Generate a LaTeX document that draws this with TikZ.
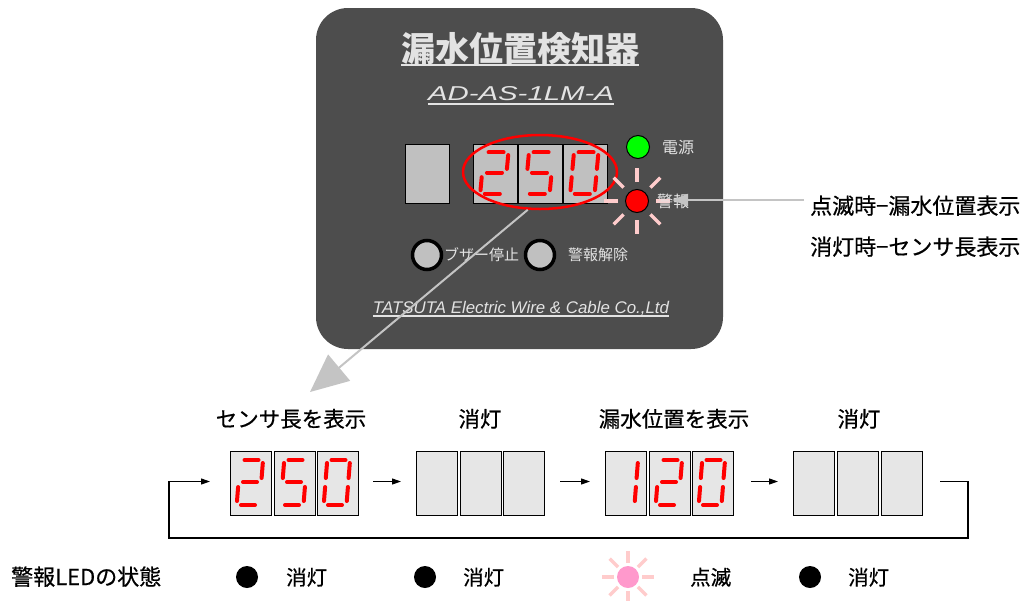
\documentclass[tikz,border=0pt]{standalone}
\usepackage{fontspec}
\usetikzlibrary{shapes.geometric,arrows.meta}
\setmainfont{Noto Sans CJK JP}
\newfontfamily\jpm[FakeBold=0.6]{Noto Sans CJK JP}
\newfontfamily\sansit{Liberation Sans}
\definecolor{panelc}{HTML}{4D4D4D}
\definecolor{ptext}{HTML}{E3E3E3}
\definecolor{dgray}{HTML}{C0C0C0}
\definecolor{lgray}{HTML}{E6E6E6}
\definecolor{rayc}{HTML}{FFCCCC}
\definecolor{pinkled}{HTML}{FF99CC}
\definecolor{arrgray}{HTML}{C4C4C4}
\newcommand\dsega{\draw[seg] (14.5,9)--(28.5,9);}
\newcommand\dsegb{\draw[seg] (32.8,12)--(31.6,27);}
\newcommand\dsegc{\draw[seg] (30.9,36)--(29.8,50);}
\newcommand\dsegd{\draw[seg] (11,54)--(25,54);}
\newcommand\dsege{\draw[seg] (8.1,36)--(7,50);}
\newcommand\dsegf{\draw[seg] (10,12)--(8.8,27);}
\newcommand\dsegg{\draw[seg] (13,31)--(27,31);}
\newcommand\sevenseg[5]{%
  \begin{scope}[shift={(#1,#2)},xscale=#3/41,yscale=#4/64]
    \foreach \s in {#5}{\csname dseg\s\endcsname}
  \end{scope}}
\begin{document}
\begin{tikzpicture}[x=1pt,y=-1pt,
  seg/.style={red,line width=4pt,line cap=round},
  panelbox/.style={fill=panelc,rounded corners=32pt,minimum width=407pt,minimum height=341pt,inner sep=0},
  pdig/.style={draw=black,fill=dgray,line width=1pt,minimum width=44pt,minimum height=59pt,anchor=north west,inner sep=0},
  ddig/.style={draw=black,fill=lgray,line width=1pt,minimum width=41pt,minimum height=64pt,anchor=north west,inner sep=0},
  ptxt/.style={text=ptext,inner sep=0,anchor=base west,font=\fontsize{15}{18}\selectfont},
  led/.style={circle,draw=black,line width=1pt,minimum size=23pt,inner sep=0},
  btn/.style={circle,draw=black,fill=dgray,line width=3.5pt,minimum size=29pt,inner sep=0},
  rayline/.style={rayc,line width=3.5pt},
  lbl/.style={inner sep=0,anchor=base,font=\jpm\fontsize{21.5}{24}\selectfont},
  lblw/.style={inner sep=0,anchor=base west,font=\jpm\fontsize{20.5}{24}\selectfont},
  flow/.style={black,line width=1.1pt,-{Triangle[length=9pt,width=6pt]}},
  dot/.style={circle,fill=black,minimum size=22pt,inner sep=0},
  uline/.style={ptext,line width=1.6pt}]
\useasboundingbox (0,0) rectangle (1027,600);
\fill[white] (0,0) rectangle (1027,600);
% panel
\node[panelbox] (panel) at (519.5,178.5) {};
\node[text=ptext,inner sep=0,anchor=base,font=\bfseries\fontsize{34}{36}\selectfont] (title) at (520,61) {漏水位置検知器};
\draw[uline,line width=2pt] ([yshift=-4pt]title.base west) -- ([yshift=-4pt]title.base east);
\node[text=ptext,inner sep=0,anchor=base] (model) at (521,100) {\resizebox{186pt}{14pt}{\sansit\itshape AD-AS-1LM-A}};
\draw[uline] ([yshift=-4pt]model.base west) -- ([yshift=-4pt]model.base east);
% display
\node[pdig] (blank) at (405,144) {};
\node[pdig] (p1) at (473,144) {};
\node[pdig] (p2) at (518,144) {};
\node[pdig] (p3) at (563,144) {};
\sevenseg{473}{144}{44}{59}{a,b,g,e,d}
\sevenseg{518}{144}{44}{59}{a,f,g,c,d}
\sevenseg{563}{144}{44}{59}{a,b,c,d,e,f}
\node[ellipse,draw=red,line width=2.5pt,minimum width=154pt,minimum height=74pt,inner sep=0] (ell) at (540,172) {};
% LEDs
\node[led,fill=green] (gled) at (638,147) {};
\node[ptxt,font=\fontsize{16}{18}\selectfont] (dengen) at (662,153) {電源};
\foreach \a in {0,45,...,315}
  \draw[rayline] ([shift={(\a:19pt)}]637,201) -- ([shift={(\a:33pt)}]637,201);
\node[led,fill=red] (rled) at (637,201) {};
\node[ptxt,font=\fontsize{16}{18}\selectfont] (keiho) at (657,207) {警報};
% buttons
\node[btn] (btn1) at (427,255) {};
\node[ptxt] (btn1t) at (444,260) {ブザー停止};
\node[btn] (btn2) at (540,255) {};
\node[ptxt] (btn2t) at (568,260) {警報解除};
% company
\node[text=ptext,inner sep=0,anchor=base] (company) at (521,313) {\resizebox{296pt}{!}{\fontsize{15}{18}\sansit\itshape TATSUTA Electric Wire \& Cable Co.,Ltd}};
\draw[uline,line width=1.2pt] ([yshift=-3pt]company.base west) -- ([yshift=-3pt]company.base east);
% big arrow
\coordinate (bigtip) at (310,392);
\draw[arrgray,line width=2pt,-{Triangle[length=38pt,width=34pt]}] (ell.252) -- (bigtip);
% right info
\node[lblw,font=\jpm\fontsize{22}{24}\selectfont] (info1) at (810,214) {点滅時−漏水位置表示};
\node[lblw,font=\jpm\fontsize{22}{24}\selectfont] (info2) at (810,255) {消灯時−センサ長表示};
\coordinate (istart) at (804,200);
\coordinate (itip) at (672,200);
\draw[arrgray,line width=2pt,-{Triangle[length=16pt,width=12pt]}] (istart) -- (itip);
% bottom sequence labels
\node[lbl] (l1) at (291,427) {センサ長を表示};
\node[lbl] (l2) at (480,427) {消灯};
\node[lbl] (l3) at (674,427) {漏水位置を表示};
\node[lbl] (l4) at (859,427) {消灯};
% bottom boxes
\node[ddig] (b11) at (230,451) {};
\node[ddig] (b12) at (274,451) {};
\node[ddig] (b13) at (317,451) {};
\node[ddig] (b21) at (416,451) {};
\node[ddig] (b22) at (460,451) {};
\node[ddig] (b23) at (503,451) {};
\node[ddig] (b31) at (605,451) {};
\node[ddig] (b32) at (649,451) {};
\node[ddig] (b33) at (692,451) {};
\node[ddig] (b41) at (793,451) {};
\node[ddig] (b42) at (837,451) {};
\node[ddig] (b43) at (881,451) {};
\sevenseg{230}{451}{41}{64}{a,b,g,e,d}
\sevenseg{274}{451}{41}{64}{a,f,g,c,d}
\sevenseg{317}{451}{41}{64}{a,b,c,d,e,f}
\sevenseg{605}{451}{41}{64}{b,c}
\sevenseg{649}{451}{41}{64}{a,b,g,e,d}
\sevenseg{692}{451}{41}{64}{a,b,c,d,e,f}
% flow arrows
\draw[flow,shorten <=14pt,shorten >=15pt] ([yshift=2pt]b13.east) -- ([yshift=2pt]b21.west);
\draw[flow,shorten <=15pt,shorten >=15pt] ([yshift=2pt]b23.east) -- ([yshift=2pt]b31.west);
\draw[flow,shorten <=17pt,shorten >=15pt] ([yshift=2pt]b33.east) -- ([yshift=2pt]b41.west);
\coordinate (loopR) at (968,538);
\coordinate (loopL) at (169,538);
\draw[flow,shorten <=17pt,shorten >=20pt] ([yshift=2pt]b43.east) -| (loopR) -- (loopL) |- ([yshift=2pt]b11.west);
% LED state row
\node[lblw,font=\jpm\fontsize{22}{24}\selectfont] (state) at (11,585) {警報LEDの状態};
\node[dot] (d1) at (247,577) {};
\node[lblw] (s1) at (286,585) {消灯};
\node[dot] (d2) at (425,577) {};
\node[lblw] (s2) at (463,585) {消灯};
\foreach \a in {0,45,...,315}
  \draw[rayline] ([shift={(\a:14pt)}]628,577) -- ([shift={(\a:26pt)}]628,577);
\node[circle,fill=pinkled,minimum size=22pt,inner sep=0] (d3) at (628,577) {};
\node[lblw] (s3) at (690,585) {点滅};
\node[dot] (d4) at (810,577) {};
\node[lblw] (s4) at (848,585) {消灯};
\end{tikzpicture}
\end{document}
